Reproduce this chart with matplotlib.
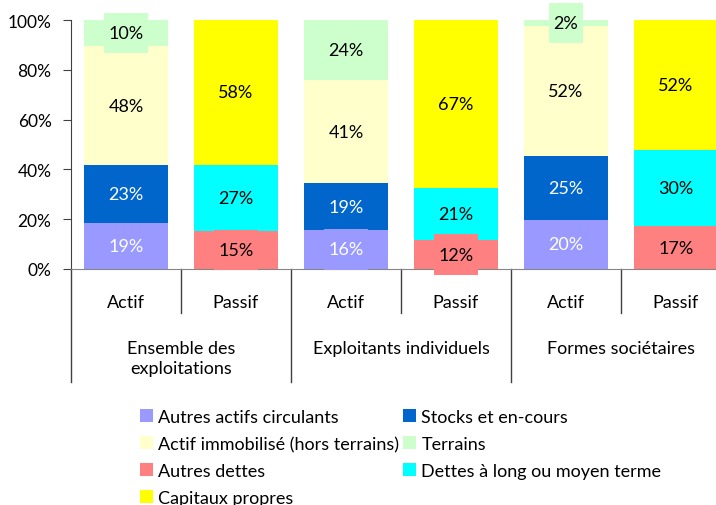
import numpy as np
import matplotlib.pyplot as plt
from matplotlib.path import Path
from matplotlib.transforms import blended_transform_factory

plt.rcParams['font.family'] = ['Lato', 'DejaVu Sans']

# categories
bar_labels = ['Actif', 'Passif', 'Actif', 'Passif', 'Actif', 'Passif']
groups = ['Ensemble des\nexploitations', 'Exploitants individuels', 'Formes sociétaires']

# shares in % (stacked from bottom to top)
autres_actifs = [18.6, 0, 15.8, 0, 19.8, 0]
stocks = [23.0, 0, 18.6, 0, 25.4, 0]
immob = [48.0, 0, 41.4, 0, 52.4, 0]
terrains = [10.4, 0, 24.2, 0, 2.4, 0]
autres_dettes = [0, 15.3, 0, 11.6, 0, 17.2]
dettes_lmt = [0, 26.6, 0, 21.0, 0, 30.4]
capitaux = [0, 58.1, 0, 67.4, 0, 52.4]

series = [autres_actifs, stocks, immob, terrains, autres_dettes, dettes_lmt, capitaux]
names = ['Autres actifs circulants', 'Stocks et en-cours', 'Actif immobilisé (hors terrains)',
         'Terrains', 'Autres dettes', 'Dettes à long ou moyen terme', 'Capitaux propres']
colors = ['#9999FF', '#0066CC', '#FFFFCC', '#CCFFCC', '#FF8080', '#00FFFF', '#FFFF00']
text_colors = ['white', 'white', 'black', 'black', 'black', 'black', 'black']

FS = 13


def label_box(x0, y0, width, height, mutation_size):
    # excel-like label box: small side margin, taller top/bottom margin
    px = 0.25 * mutation_size
    py = 0.68 * mutation_size
    x0, y0 = x0 - px, y0 - py
    x1, y1 = x0 + width + 2 * px, y0 + height + 2 * py
    return Path([(x0, y0), (x1, y0), (x1, y1), (x0, y1), (x0, y0)], closed=True)


W, H = 716, 506
fig = plt.figure(figsize=(W / 100, H / 100), dpi=100)
ax = fig.add_axes([71 / W, (H - 270) / H, 660 / W, 249 / H])

x = np.arange(len(bar_labels))
bottom = np.zeros(len(x))
handles = []
for vals, name, col, tc in zip(series, names, colors, text_colors):
    vals = np.array(vals)
    h = ax.bar(x, vals, 0.77, bottom=bottom, color=col, label=name, zorder=2)
    handles.append(h)
    for xi, v, b in zip(x, vals, bottom):
        if v > 0:
            ax.text(xi, b + v / 2, f'{v:.0f}%', ha='center', va='center', color=tc,
                    fontsize=FS, zorder=5,
                    bbox=dict(boxstyle=label_box, fc=col, ec='none'))
    bottom += vals

axis_col = '#404040'
ax.set_xlim(-0.5, 5.5)
ax.set_ylim(0, 100)
ax.set_yticks(range(0, 101, 20))
ax.set_yticklabels([f'{v}%' for v in range(0, 101, 20)], fontsize=12.5)
ax.set_xticks([])
ax.tick_params(axis='y', length=6, color=axis_col, pad=8)
for s in ['top', 'right']:
    ax.spines[s].set_visible(False)
ax.spines['left'].set_color(axis_col)
ax.spines['bottom'].set_color('#868686')

# multi-level category axis
trans = blended_transform_factory(ax.transData, ax.transAxes)
for i, xb in enumerate(np.arange(-0.5, 6, 1.0)):
    y_end = -0.455 if i % 2 == 0 else -0.177
    ax.plot([xb, xb], [0, y_end], color=axis_col, lw=1, transform=trans, clip_on=False)
for xi, lab in zip(x, bar_labels):
    ax.text(xi, -0.134, lab, ha='center', va='center', fontsize=FS, transform=trans)
for gi, g in enumerate(groups):
    ax.text(2 * gi + 0.5, -0.285, g, ha='center', va='top', fontsize=FS,
            linespacing=1.3, transform=trans)

# legend in row order: two columns
order = [0, 2, 4, 6, 1, 3, 5]
fig.legend([handles[i] for i in order], [names[i] for i in order],
           loc='upper left', bbox_to_anchor=(131 / W, 1 - 401 / H), ncol=2,
           frameon=False, fontsize=FS, handlelength=0.72, handleheight=0.72,
           handletextpad=0.3, columnspacing=0.2, labelspacing=0.6, borderpad=0)

fig.savefig('out.png', dpi=100)
